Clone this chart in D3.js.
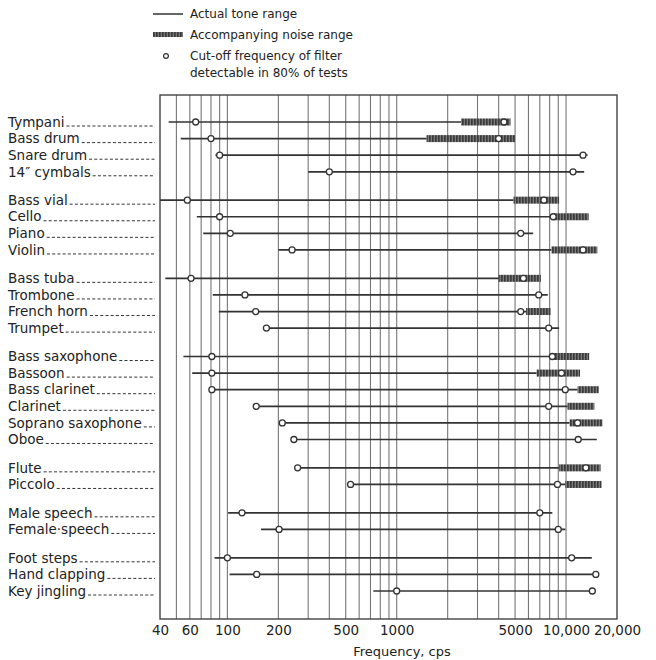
<!DOCTYPE html>
<html>
<head>
<meta charset="utf-8">
<script src="https://cdn.jsdelivr.net/npm/d3@7"></script>
<style>
  body { margin: 0; background: #fff; }
  svg { display: block; font-family: "DejaVu Sans", sans-serif; fill: #222; }
</style>
</head>
<body>
<svg id="chart" width="656" height="660"></svg>
<script>
// sound sources, top to bottom, with the group each one belongs to
var sources = ["Tympani", "Bass drum", "Snare drum", "14\u2033 cymbals",
  "Bass vial", "Cello", "Piano", "Violin",
  "Bass tuba", "Trombone", "French horn", "Trumpet",
  "Bass saxophone", "Bassoon", "Bass clarinet", "Clarinet", "Soprano saxophone", "Oboe",
  "Flute", "Piccolo",
  "Male speech", "Female\u00b7speech",
  "Foot steps", "Hand clapping", "Key jingling"];
var groups = [0, 0, 0, 0, 1, 1, 1, 1, 2, 2, 2, 2, 3, 3, 3, 3, 3, 3, 4, 4, 5, 5, 6, 6, 6];

// actual tone range, cps
var toneLow  = [45, 53, 85, 300, 40, 66, 72, 200, 43, 82, 89, 170, 55, 62, 79, 148, 211, 247, 260, 534, 101, 158, 84, 103, 728];
var toneHigh = [2400, 1500, 13400, 12800, 4900, 8400, 6400, 8200, 4000, 7800, 5800, 9100, 8300, 6700, 11700, 10200, 10500, 15200, 9100, 9900, 8300, 9900, 14200, 15000, 14300];

// accompanying noise range, cps (null = none)
var noiseLow  = [2400, 1500, null, null, 4900, 8500, null, 8200, 4000, null, 5800, null, 8400, 6700, 11700, 10200, 10500, null, 9100, 9900, null, null, null, null, null];
var noiseHigh = [4700, 5000, null, null, 9100, 13600, null, 15300, 7100, null, 8100, null, 13700, 12100, 15600, 14700, 16400, null, 16000, 16200, null, null, null, null, null];

// cut-off frequencies of filter detectable in 80% of tests
var cutLow  = [65, 80, 90, 400, 58, 90, 104, 241, 61, 127, 147, 170, 81, 81, 81, 148, 211, 247, 260, 534, 122, 202, 100, 149, 1000];
var cutHigh = [4300, 4000, 12600, 11000, 7400, 8400, 5400, 12600, 5600, 6900, 5400, 7900, 8300, 9400, 9900, 7900, 11700, 11800, 13100, 8900, 7000, 9000, 10800, 15000, 14300];

var gridFreqs = [50, 60, 70, 80, 90, 100, 200, 300, 400, 500, 600, 700, 800, 900, 1000,
  2000, 3000, 4000, 5000, 6000, 7000, 8000, 9000, 10000];
var tickFreqs = [40, 60, 100, 200, 500, 1000, 5000, 10000, 20000];

var svg = d3.select("#chart");
var plot = {left: 160, right: 617, top: 95, bottom: 619};
var groupGap = 0.71;

var x = d3.scaleLog()
  .domain([40, 20000])
  .range([plot.left, plot.right]);
var y = d3.scaleLinear()
  .domain([0, sources.length - 1 + groupGap * d3.max(groups)])
  .range([122, 591]);
var rowY = function(i) { return y(i + groupGap * groups[i]); };

var defs = svg.append("defs");
var pat = defs.append("pattern")
  .attr("id", "noise")
  .attr("patternUnits", "userSpaceOnUse")
  .attr("width", 3).attr("height", 8);
pat.append("rect").attr("width", 3).attr("height", 8).attr("fill", "#7a7a7a");
pat.append("rect").attr("width", 1.7).attr("height", 8).attr("fill", "#3a3a3a");

// legend
var legend = svg.append("g").attr("font-size", "12px");
legend.append("line")
  .attr("x1", 153).attr("x2", 183).attr("y1", 14).attr("y2", 14)
  .attr("stroke", "#333").attr("stroke-width", 1.5);
legend.append("rect")
  .attr("x", 153).attr("y", 32).attr("width", 30).attr("height", 5)
  .attr("fill", "url(#noise)");
legend.append("circle")
  .attr("cx", 166).attr("cy", 56).attr("r", 2.4)
  .attr("fill", "#fff").attr("stroke", "#333").attr("stroke-width", 1.2);
var legendText = [["Actual tone range", 14], ["Accompanying noise range", 35],
  ["Cut-off frequency of filter", 56], ["detectable in 80% of tests", 73]];
legend.selectAll("text.leg")
  .data(legendText)
  .join("text")
    .attr("class", "leg")
    .attr("x", 190)
    .attr("y", function(d) { return d[1]; })
    .attr("dy", "0.35em")
    .text(function(d) { return d[0]; });

// grid and frame
var g = svg.append("g");
g.selectAll("line.grid")
  .data(gridFreqs)
  .join("line")
    .attr("class", "grid")
    .attr("x1", function(d) { return x(d); })
    .attr("x2", function(d) { return x(d); })
    .attr("y1", plot.top).attr("y2", plot.bottom)
    .attr("stroke", "#777").attr("stroke-width", 1.1);
g.append("rect")
  .attr("x", plot.left).attr("y", plot.top)
  .attr("width", plot.right - plot.left).attr("height", plot.bottom - plot.top)
  .attr("fill", "none").attr("stroke", "#444").attr("stroke-width", 1.4);

// x axis
var axis = g.append("g")
  .attr("transform", "translate(0," + plot.bottom + ")")
  .call(d3.axisBottom(x)
    .tickValues(tickFreqs)
    .tickSize(0)
    .tickPadding(6)
    .tickFormat(function(d) { return d >= 10000 ? d3.format(",")(d) : d; }));
axis.select(".domain").remove();
axis.selectAll("text")
  .attr("font-family", "DejaVu Sans, sans-serif")
  .attr("font-size", "13.5px")
  .attr("fill", "#222");

svg.append("text")
  .attr("x", 402).attr("y", 651)
  .attr("dy", "0.35em")
  .attr("text-anchor", "middle")
  .attr("font-size", "13px")
  .text("Frequency, cps");

// row labels with dotted leaders
var rows = svg.append("g").selectAll("g.row")
  .data(sources)
  .join("g")
    .attr("class", "row");
rows.append("text")
  .attr("x", 8)
  .attr("y", function(d, i) { return rowY(i); })
  .attr("dy", "0.35em")
  .attr("font-size", "13.5px")
  .text(function(d) { return d; })
  .each(function(d, i) {
    var end = 8 + this.getComputedTextLength() + 2;
    d3.select(this.parentNode).append("line")
      .attr("x1", end).attr("x2", 155)
      .attr("y1", rowY(i) + 4).attr("y2", rowY(i) + 4)
      .attr("stroke", "#333").attr("stroke-width", 1)
      .attr("stroke-dasharray", "3,2.2");
  });

// tone ranges
g.selectAll("line.tone")
  .data(sources)
  .join("line")
    .attr("class", "tone")
    .attr("x1", function(d, i) { return x(toneLow[i]); })
    .attr("x2", function(d, i) { return x(toneHigh[i]); })
    .attr("y1", function(d, i) { return rowY(i); })
    .attr("y2", function(d, i) { return rowY(i); })
    .attr("stroke", "#333").attr("stroke-width", 1.7);

// noise ranges
g.selectAll("rect.noise")
  .data(sources.map(function(d, i) { return i; }).filter(function(i) { return noiseLow[i] !== null; }))
  .join("rect")
    .attr("class", "noise")
    .attr("x", function(i) { return x(noiseLow[i]); })
    .attr("width", function(i) { return x(noiseHigh[i]) - x(noiseLow[i]); })
    .attr("y", function(i) { return rowY(i) - 3.5; })
    .attr("height", 7)
    .attr("fill", "url(#noise)");

// cut-off frequencies
var cuts = [];
sources.forEach(function(d, i) {
  cuts.push({i: i, f: cutLow[i]});
  cuts.push({i: i, f: cutHigh[i]});
});
g.selectAll("circle.cut")
  .data(cuts)
  .join("circle")
    .attr("class", "cut")
    .attr("cx", function(d) { return x(d.f); })
    .attr("cy", function(d) { return rowY(d.i); })
    .attr("r", 3)
    .attr("fill", "#fff").attr("stroke", "#333").attr("stroke-width", 1.3);
</script>
</body>
</html>
